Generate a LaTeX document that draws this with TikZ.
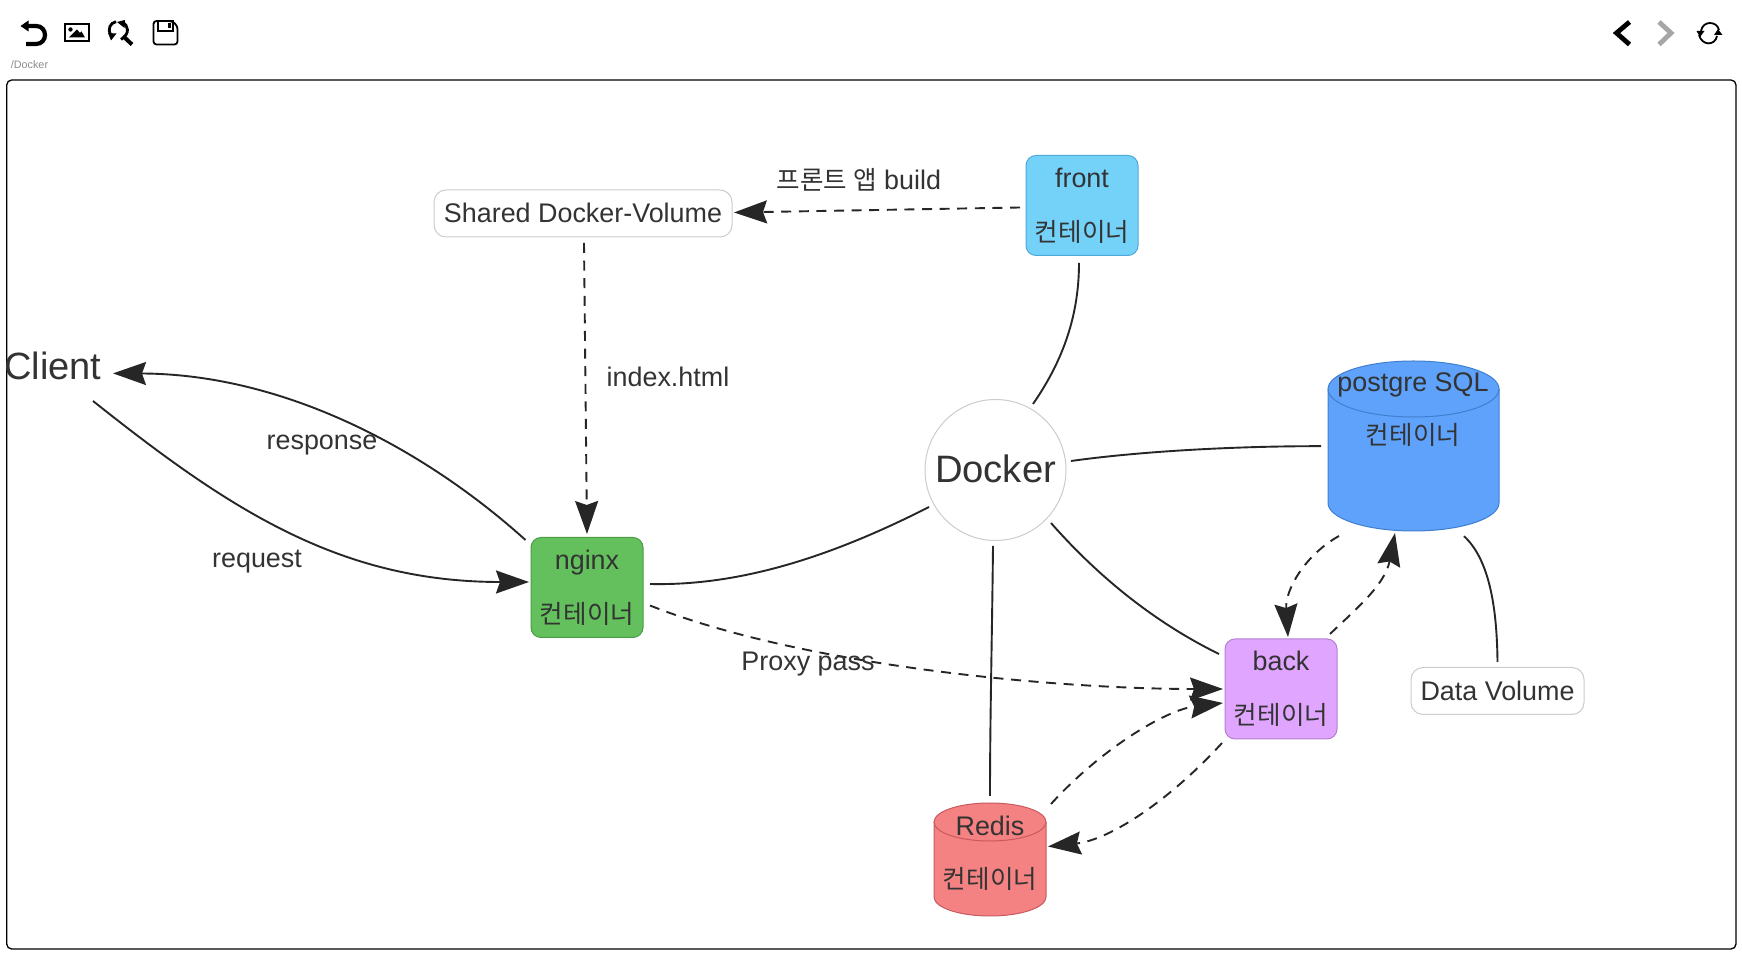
\documentclass[tikz,border=0pt]{standalone}
\usepackage{fontspec}
\setmainfont{Liberation Sans}
\newfontfamily\krfont[Scale=0.95]{Noto Sans CJK KR}
\usetikzlibrary{arrows.meta}
\definecolor{ink}{HTML}{333333}
\definecolor{edge}{HTML}{262626}
\definecolor{pgfill}{HTML}{5FA2FB}
\definecolor{pgline}{HTML}{3F7FCF}
\definecolor{rdfill}{HTML}{F58282}
\definecolor{rdline}{HTML}{C75A5F}
\definecolor{frfill}{HTML}{74D2F9}
\definecolor{frline}{HTML}{4FA8D8}
\definecolor{ngfill}{HTML}{63C05C}
\definecolor{ngline}{HTML}{4A9C45}
\definecolor{bkfill}{HTML}{DFA5FF}
\definecolor{bkline}{HTML}{B47FD0}
\newcommand{\kr}[1]{{\krfont #1}}
\newcommand{\dbcyl}[7]{% x0 x1 ytop ybot ry fill stroke (ytop,ybot = ellipse centres)
  \path[fill=#6,draw=#7,line width=.5pt] (#1,#3)
    .. controls (#1,{#3-.55*#5}) and ({#1+.22*(#2-#1)},{#3-#5}) .. ({(#1+#2)/2},{#3-#5})
    .. controls ({#2-.22*(#2-#1)},{#3-#5}) and (#2,{#3-.55*#5}) .. (#2,#3)
    -- (#2,#4)
    .. controls (#2,{#4+.55*#5}) and ({#2-.22*(#2-#1)},{#4+#5}) .. ({(#1+#2)/2},{#4+#5})
    .. controls ({#1+.22*(#2-#1)},{#4+#5}) and (#1,{#4+.55*#5}) .. (#1,#4) -- cycle;
  \path[draw=#7,line width=.5pt] (#1,#3)
    .. controls (#1,{#3+.55*#5}) and ({#1+.22*(#2-#1)},{#3+#5}) .. ({(#1+#2)/2},{#3+#5})
    .. controls ({#2-.22*(#2-#1)},{#3+#5}) and (#2,{#3+.55*#5}) .. (#2,#3);}
\tikzset{
  x=0.5pt,y=-0.5pt,
  txt/.style={text=ink,font=\fontsize{13.45}{26.5}\selectfont,align=center,inner sep=0pt},
  boxed/.style={txt,rounded corners=5pt,line width=.5pt,minimum width=56pt,minimum height=50pt},
  white box/.style={txt,rounded corners=6pt,line width=.5pt,draw=black!20,fill=white,minimum height=23.5pt},
  link/.style={draw=edge,line width=.95pt},
  flow/.style={link,dash pattern=on 5pt off 3.8pt,-{Stealth[length=16.5pt,width=11.5pt,inset=2pt,fill=edge]}},
  solidflow/.style={link,-{Stealth[length=16.5pt,width=11.5pt,inset=2pt,fill=edge]}}
}
\begin{document}
\begin{tikzpicture}
\useasboundingbox[fill=white] (0,0) rectangle (1742,977);
% frame
\draw[black,line width=.65pt,rounded corners=2.5pt] (6.7,80) rectangle (1736,949);
% toolbar icons
\fill[black] (20.5,26) -- (28.5,20.5) -- (28.5,31.5) -- cycle;
\draw[black,line width=2.1pt] (27,26) -- (36,26) .. controls (48,26) and (48,44) .. (36,44) -- (26,44);
\draw[black,line width=1pt] (65,24.5) rectangle (88.5,41);
\fill[black] (69,37.5) -- (77,29.5) -- (80,33) -- (81.5,31.5) -- (85,37.5) -- cycle;
\fill[black] (70.5,29.5) circle (1.1pt);
\draw[black,line width=1.4pt] (116,21.7) .. controls (110,23) and (107.5,29) .. (110.5,35);
\draw[black,line width=1.4pt] (122,22.5) .. controls (129,25) and (130,34) .. (121,39.5);
\fill[black] (108,33) -- (116.5,33.5) -- (111,40.5) -- cycle;
\fill[black] (125,20) -- (117,22) -- (124.5,28) -- cycle;
\draw[black,line width=2pt] (123,36) -- (132,44.5);
\draw[black,line width=.9pt,rounded corners=1.5pt] (153.5,21) -- (172,21) -- (177.5,26) -- (177.5,44.5) -- (153.5,44.5) -- cycle;
\draw[black,line width=.9pt] (158,21) rectangle (173,31);
\fill[black] (167.5,23.5) rectangle (170.5,28.5);
\node[inner sep=0pt,text=black!45,font=\fontsize{5.4}{6}\selectfont] (path) at (29.5,64.5) {/Docker};
\draw[black,line width=2.4pt] (1629.5,22) -- (1616.5,33) -- (1629.5,44.5);
\draw[black!35,line width=2.4pt] (1659,22) -- (1671,33) -- (1659,44.5);
\draw[black,line width=.9pt] (1701,31) .. controls (1703,20) and (1717,21) .. (1719,30);
\draw[black,line width=.9pt] (1717,36) .. controls (1715,46) and (1702,46) .. (1699,35);
\fill[black] (1696.5,31) -- (1704.5,31) -- (1700,37) -- cycle;
\fill[black] (1714,35) -- (1722.5,35) -- (1718,29) -- cycle;
% cylinders
\dbcyl{1328}{1499}{389}{503}{28}{pgfill}{pgline}
\dbcyl{934}{1046}{822}{897}{19}{rdfill}{rdline}
% nodes
\node[txt,minimum width=85.5pt,minimum height=85pt] (pg) at (1413.5,445.7) {};
\node[txt] (pglabel) at (1413,409.5) {postgre SQL\\\kr{컨테이너}};
\node[txt,minimum width=56pt,minimum height=56.5pt] (redis) at (990,859.5) {};
\node[txt] (redislabel) at (990,853) {Redis\\\kr{컨테이너}};
\node[boxed,draw=frline,fill=frfill] (front) at (1082,205.5) {\raisebox{.5pt}{front}\\\kr{컨테이너}};
\node[boxed,draw=ngline,fill=ngfill] (nginx) at (587,587.5) {\raisebox{.5pt}{nginx}\\\kr{컨테이너}};
\node[boxed,draw=bkline,fill=bkfill] (back) at (1281,689) {\raisebox{.3pt}{back}\\\kr{컨테이너}};
\node[white box,minimum width=149pt] (shared) at (583,213.5) {\raisebox{.8pt}{Shared Docker-Volume}};
\node[white box,minimum width=86.5pt] (dv) at (1497.5,691) {\raisebox{.7pt}{Data Volume}};
\node[circle,draw=black!20,line width=.5pt,fill=white,minimum size=70.5pt,inner sep=0pt,text=ink,font=\fontsize{19.1}{22}\selectfont] (docker) at (995.5,470) {\raisebox{1pt}{Docker}};
\node[inner sep=0pt,text=ink,font=\fontsize{19}{22}\selectfont] (client) at (53,366) {Client};
% connectors
\draw[link] ([shift={(-3,57.5)}]front.center) .. controls (1079,320) and (1060,365) .. ([shift={(37.5,-66)}]docker.center);
\draw[link] ([shift={(75.5,-9)}]docker.center) .. controls (1150,450) and (1250,446) .. ([shift={(-92.5,.5)}]pg.center);
\draw[link] ([shift={(-66.5,37)}]docker.center) .. controls (825,560) and (735,586) .. ([shift={(63,-3.5)}]nginx.center);
\draw[link] ([shift={(55.5,53)}]docker.center) .. controls (1110,590) and (1170,630) .. ([shift={(-62,-35)}]back.center);
\draw[link] ([shift={(-2.5,76)}]docker.center) .. controls (992,640) and (990,720) .. ([shift={(0,-63.5)}]redis.center);
\draw[link] ([shift={(50.5,90.5)}]pg.center) .. controls (1490,560) and (1497,610) .. ([shift={(0,-29)}]dv.center);
\draw[flow] ([shift={(1,29.5)}]shared.center) -- ([shift={(0,-53.5)}]nginx.center);
\draw[flow] ([shift={(-62,2)}]front.center) -- ([shift={(151,-1)}]shared.center);
\draw[solidflow] ([shift={(-61.5,-47.5)}]nginx.center) .. controls (420,445) and (280,374) .. ([shift={(60,7.4)}]client.center);
\draw[solidflow] ([shift={(40,35)}]client.center) .. controls (230,510) and (340,582) .. ([shift={(-58,-5.5)}]nginx.center);
\draw[flow] ([shift={(63,18)}]nginx.center) .. controls (800,665) and (1050,689) .. ([shift={(-58,0)}]back.center);
\draw[flow] ([shift={(-74.5,90.3)}]pg.center) .. controls (1305,555) and (1285,590) .. ([shift={(7,-52)}]back.center);
\draw[flow] ([shift={(49,-55)}]back.center) .. controls (1355,610) and (1385,585) .. ([shift={(-18.5,87.3)}]pg.center);
\draw[flow] ([shift={(61,-55.5)}]redis.center) .. controls (1100,750) and (1165,710) .. ([shift={(-58,14)}]back.center);
\draw[flow] ([shift={(-59,54)}]back.center) .. controls (1170,800) and (1110,840) .. ([shift={(58,-13)}]redis.center);
% edge labels
\node[txt] (l1) at (859,180) {\kr{프론트 앱} build};
\node[txt] (l2) at (668,377) {index.html};
\node[txt] (l3) at (322,445) {response};
\node[txt] (l4) at (257,561.5) {request};
\node[txt] (l5) at (808,664) {Proxy pass};
\end{tikzpicture}
\end{document}
